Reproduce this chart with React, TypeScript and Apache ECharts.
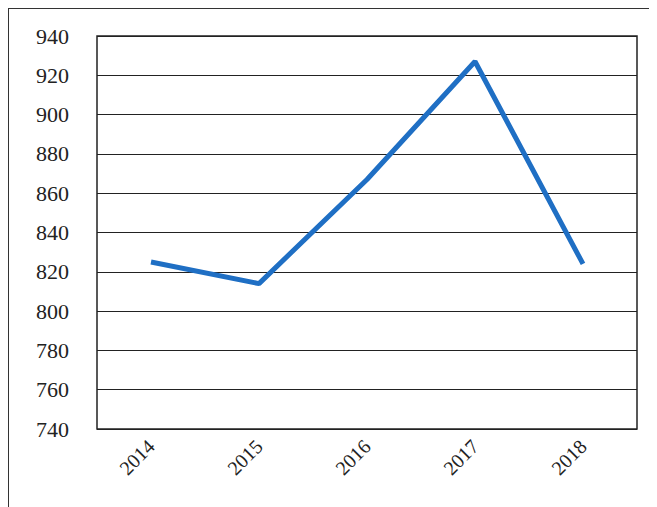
import { useEffect, useRef } from 'react';
import * as echarts from 'echarts';

const years = ['2014', '2015', '2016', '2017', '2018'];
const values = [825, 814, 867, 927, 824];

const serif = '"Liberation Serif", "Times New Roman", Times, serif';

export default function App() {
  const ref = useRef<HTMLDivElement | null>(null);

  useEffect(() => {
    if (!ref.current) return undefined;
    const chart = echarts.init(ref.current, undefined, { renderer: 'svg' });
    chart.setOption({
      animation: false,
      textStyle: { fontFamily: serif },
      grid: { left: 88, top: 27, right: 13, bottom: 77, show: true, borderColor: '#222', borderWidth: 1.5 },
      xAxis: {
        type: 'category',
        data: years,
        axisLine: { show: false },
        axisTick: { show: false },
        axisLabel: { rotate: 45, fontSize: 20, color: '#222', margin: 14, fontFamily: serif }
      },
      yAxis: {
        type: 'value',
        min: 740,
        max: 940,
        interval: 20,
        axisLine: { show: false },
        axisTick: { show: false },
        axisLabel: { fontSize: 22, color: '#222', margin: 28, fontFamily: serif },
        splitLine: { lineStyle: { color: '#222', width: 1.2 } }
      },
      series: [{
        type: 'line',
        data: values,
        showSymbol: false,
        lineStyle: { color: '#1f6fc4', width: 5 }
      }]
    });
    return () => chart.dispose();
  }, []);

  return (
    <div style={{ width: 641, height: 499, borderLeft: '1.5px solid #333', borderTop: '1.5px solid #333', borderRight: '1.5px solid #333' }}>
      <div ref={ref} style={{ width: 641, height: 497 }} />
    </div>
  );
}
